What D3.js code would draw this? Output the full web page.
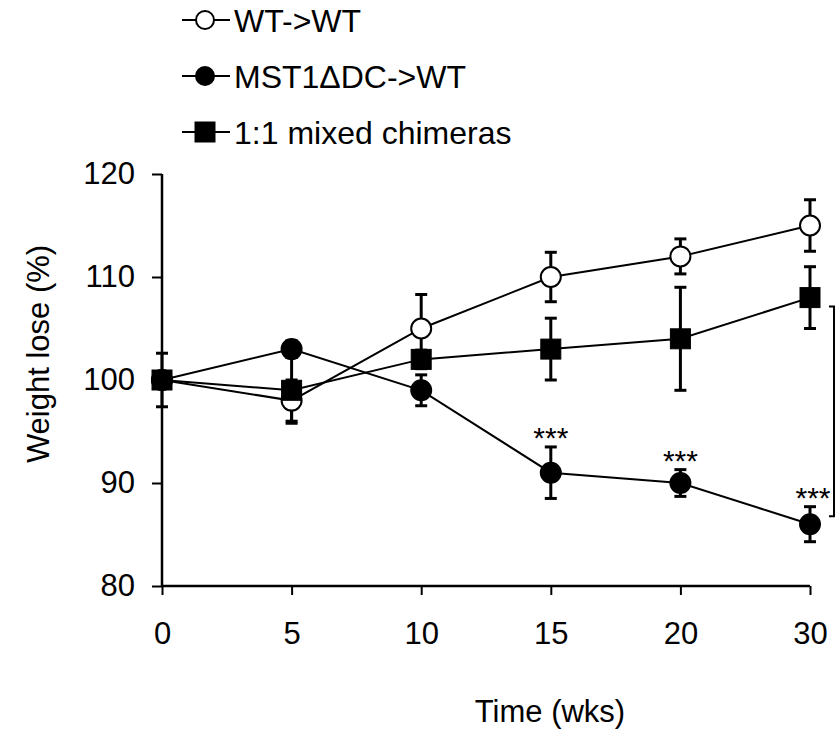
<!DOCTYPE html>
<html>
<head>
<meta charset="utf-8">
<script src="https://cdn.jsdelivr.net/npm/d3@7"></script>
<style>
  body { margin: 0; background: #fff; }
  svg { font-family: Arial, "Liberation Sans", sans-serif; }
</style>
</head>
<body>
<div id="chart"></div>
<script>
// chart size
const width = 837;
const height = 736;

// data
const timePoints = ["0", "5", "10", "15", "20", "30"];
const wtMean = [100, 98, 105, 110, 112, 115];
const wtErr = [2.6, 2, 3.3, 2.4, 1.7, 2.5];
const mstMean = [100, 103, 99, 91, 90, 86];
const mstErr = [0.8, 0.8, 1.5, 2.5, 1.3, 1.7];
const mixMean = [100, 99, 102, 103, 104, 108];
const mixErr = [0.8, 3.2, 0.9, 3, 5, 3];
const yTicks = [80, 90, 100, 110, 120];
const starPoints = ["15", "20", "30"];

const series = [
    { name: "WT->WT", mean: wtMean, err: wtErr, shape: "circle", fill: "#fff" },
    { name: "MST1\u0394DC->WT", mean: mstMean, err: mstErr, shape: "circle", fill: "#000" },
    { name: "1:1 mixed chimeras", mean: mixMean, err: mixErr, shape: "square", fill: "#000" }
];

// scales
const xScale = d3.scalePoint()
    .domain(timePoints)
    .range([162, 810]);

const yScale = d3.scaleLinear()
    .domain([80, 120])
    .range([586, 174]);

const svg = d3.select("#chart")
    .append("svg")
    .attr("width", width)
    .attr("height", height);

// y axis
const yAxis = svg.append("g")
    .attr("transform", `translate(${xScale("0")}, 0)`)
    .call(d3.axisLeft(yScale).tickValues(yTicks).tickSize(10).tickPadding(17));

// x axis
const xAxis = svg.append("g")
    .attr("transform", `translate(0, ${yScale(80)})`)
    .call(d3.axisBottom(xScale).tickSize(9).tickPadding(27));

[yAxis, xAxis].forEach(ax => {
    ax.select(".domain").attr("stroke", "#000").attr("stroke-width", 2.5);
    ax.selectAll(".tick line").attr("stroke", "#000").attr("stroke-width", 2);
    ax.selectAll(".tick text").attr("fill", "#000").style("font-size", "31px");
});
// no outer ticks on the axis lines
yAxis.select(".domain").attr("d", `M0,${yScale(120)}V${yScale(80)}`);
xAxis.select(".domain").attr("d", `M${xScale("0")},0H${xScale("30")}`);

// axis titles
svg.append("text")
    .attr("transform", `translate(49, 354) rotate(-90)`)
    .attr("text-anchor", "middle")
    .style("font-size", "31px")
    .text("Weight lose (%)");

svg.append("text")
    .attr("x", 550)
    .attr("y", 722)
    .attr("text-anchor", "middle")
    .style("font-size", "31px")
    .text("Time (wks)");

// lines
const line = d3.line()
    .x((d, i) => xScale(timePoints[i]))
    .y(d => yScale(d));

series.forEach(s => {
    svg.append("path")
        .datum(s.mean)
        .attr("fill", "none")
        .attr("stroke", "#000")
        .attr("stroke-width", 2)
        .attr("d", line);
});

// error bars
const capW = 6;
series.forEach(s => {
    const g = svg.append("g").attr("stroke", "#000").attr("stroke-width", 3);
    s.mean.forEach((m, i) => {
        const x = xScale(timePoints[i]);
        const yTop = yScale(m + s.err[i]);
        const yBot = yScale(m - s.err[i]);
        g.append("line").attr("x1", x).attr("x2", x).attr("y1", yTop).attr("y2", yBot);
        g.append("line").attr("x1", x - capW).attr("x2", x + capW).attr("y1", yTop).attr("y2", yTop);
        g.append("line").attr("x1", x - capW).attr("x2", x + capW).attr("y1", yBot).attr("y2", yBot);
    });
});

// markers
function drawMarker(g, shape, fill, x, y, size) {
    if (shape === "circle") {
        g.append("circle")
            .attr("cx", x).attr("cy", y).attr("r", size)
            .attr("fill", fill).attr("stroke", "#000").attr("stroke-width", 2);
    } else {
        g.append("rect")
            .attr("x", x - size).attr("y", y - size)
            .attr("width", size * 2).attr("height", size * 2)
            .attr("fill", fill).attr("stroke", "#000").attr("stroke-width", 1);
    }
}

series.forEach(s => {
    const g = svg.append("g");
    s.mean.forEach((m, i) => drawMarker(g, s.shape, s.fill, xScale(timePoints[i]), yScale(m), 10));
});

// significance stars over MST1 series
starPoints.forEach(t => {
    const i = timePoints.indexOf(t);
    svg.append("text")
        .attr("x", xScale(t) + (t === "30" ? 3 : 0))
        .attr("y", yScale(mstMean[i] + mstErr[i]) + 1)
        .attr("text-anchor", "middle")
        .style("font-size", "30px")
        .text("***");
});

// bracket at 30 wks
const bx = 834;
const bTop = yScale(mixMean[5]) + 9;
const bBot = yScale(mstMean[5]) - 8;
svg.append("path")
    .attr("d", `M${bx - 5},${bTop}H${bx}V${bBot}H${bx - 5}`)
    .attr("fill", "none")
    .attr("stroke", "#000")
    .attr("stroke-width", 2);

// legend
const legend = svg.append("g").attr("transform", "translate(182, 0)");
series.forEach((s, i) => {
    const y = 20 + i * 56;
    legend.append("line")
        .attr("x1", 0).attr("x2", 48).attr("y1", y).attr("y2", y)
        .attr("stroke", "#000").attr("stroke-width", 2);
    drawMarker(legend, s.shape, s.fill, 23, y, s.shape === "circle" ? 9 : 10);
    legend.append("text")
        .attr("x", 52)
        .attr("y", y)
        .attr("dy", "0.36em")
        .style("font-size", "32px")
        .text(s.name);
});
</script>
</body>
</html>
